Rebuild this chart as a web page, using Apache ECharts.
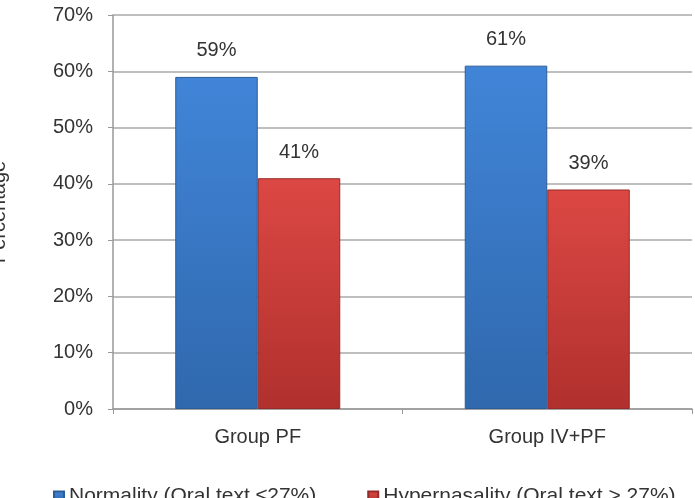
<!DOCTYPE HTML>
<html>
<head>
	<meta charset="utf-8" />
	<title>Percentage by group</title>
	<script src="https://cdn.jsdelivr.net/npm/echarts@6/dist/echarts.min.js"></script>
	<style>
		html, body { margin: 0; padding: 0; background: #fff; }
	</style>
</head>
<body>
	<div id="main" style="width: 695px;height:498px;"></div>
	<script type="text/javascript">
		var categories = ["Group PF", "Group IV+PF"];
		var normality = [59, 61];
		var hypernasality = [41, 39];
		var seriesNames = ["Normality (Oral text \u226427%)", "Hypernasality (Oral text > 27%)"];

		// soft top-to-bottom shading, like the old office 3d bars
		function barFill(top, bottom) {
			return new echarts.graphic.LinearGradient(0, 0, 0, 1, [
				{ offset: 0, color: top },
				{ offset: 1, color: bottom }
			]);
		}

		var myChart = echarts.init(document.getElementById("main"));

		var labelStyle = {
			show: true,
			position: "top",
			distance: 16,
			formatter: "{c}%",
			fontSize: 20,
			color: "#333"
		};

		var option = {
			animation: false,
			textStyle: { fontFamily: "Liberation Sans" },
			grid: { left: 113, right: 3, top: 15, bottom: 89, outerBoundsMode: "none", containLabel: false },
			legend: {
				top: 481,
				left: 48,
				icon: "rect",
				itemWidth: 10,
				itemHeight: 10,
				itemGap: 51,
				textStyle: { fontSize: 21, color: "#333" },
				data: seriesNames
			},
			xAxis: {
				type: "category",
				data: categories,
				axisLine: { lineStyle: { color: "#999", width: 1.5 } },
				axisTick: { show: true, length: 5, lineStyle: { color: "#999" } },
				axisLabel: { margin: 18, fontSize: 20, color: "#333" }
			},
			yAxis: {
				type: "value",
				min: 0,
				max: 70,
				interval: 10,
				name: "Percentage",
				nameLocation: "middle",
				nameGap: 104,
				nameTextStyle: { fontSize: 20, color: "#333" },
				axisLine: { show: true, lineStyle: { color: "#999", width: 1.5 } },
				axisTick: { show: true, length: 5, lineStyle: { color: "#999" } },
				axisLabel: { formatter: "{value}%", margin: 20, fontSize: 20, color: "#333" },
				splitLine: { lineStyle: { color: "#aaa", width: 1.5 } }
			},
			series: [{
				name: seriesNames[0],
				type: "bar",
				barGap: "0%",
				barCategoryGap: "43%",
				data: normality,
				itemStyle: {
					color: barFill("#4185d8", "#2f68ad"),
					borderColor: "#2c5c98",
					borderWidth: 1
				},
				label: labelStyle
			}, {
				name: seriesNames[1],
				type: "bar",
				data: hypernasality,
				itemStyle: {
					color: barFill("#dc4844", "#b0302d"),
					borderColor: "#962a28",
					borderWidth: 1
				},
				label: labelStyle
			}]
		};

		myChart.setOption(option);
	</script>
</body>
</html>
